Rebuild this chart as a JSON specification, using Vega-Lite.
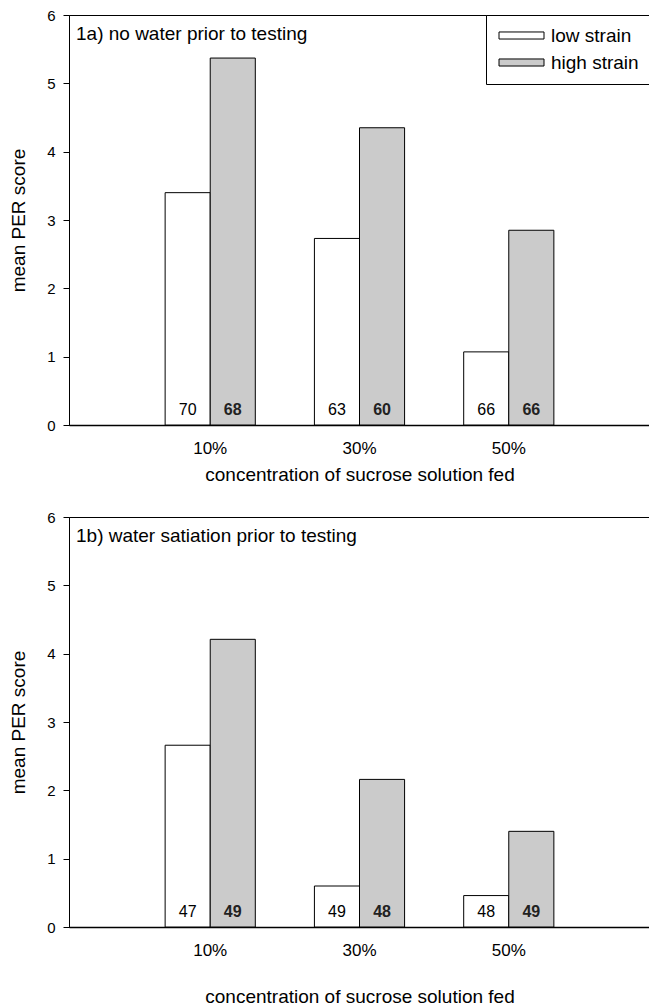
{
  "$schema": "https://vega.github.io/schema/vega-lite/v6.json",
  "padding": {"left": 9, "top": 7, "right": 0, "bottom": 0},
  "background": "white",
  "spacing": 24,
  "config": {
    "font": "Liberation Sans",
    "view": {"stroke": "black", "strokeWidth": 1},
    "axis": {"domainColor": "black", "tickColor": "black", "labelColor": "black", "titleColor": "black", "grid": false, "labelFont": "Liberation Sans", "titleFont": "Liberation Sans", "titleFontWeight": "normal"},
    "legend": {"orient": "top-right", "offset": 0, "strokeColor": "black", "fillColor": "white", "padding": 11, "symbolType": "M-1,-0.47H5V0.47H-1Z", "symbolSize": 225, "symbolStrokeColor": "black", "symbolStrokeWidth": 1, "labelFontSize": 19, "labelFont": "Liberation Sans", "labelColor": "black", "labelOffset": 35, "rowPadding": 7, "title": null}
  },
  "data": {"values": [
    {"panel": "1a", "conc": "10%", "strain": "low strain", "score": 3.40, "n": 70},
    {"panel": "1a", "conc": "10%", "strain": "high strain", "score": 5.37, "n": 68},
    {"panel": "1a", "conc": "30%", "strain": "low strain", "score": 2.73, "n": 63},
    {"panel": "1a", "conc": "30%", "strain": "high strain", "score": 4.35, "n": 60},
    {"panel": "1a", "conc": "50%", "strain": "low strain", "score": 1.07, "n": 66},
    {"panel": "1a", "conc": "50%", "strain": "high strain", "score": 2.85, "n": 66},
    {"panel": "1b", "conc": "10%", "strain": "low strain", "score": 2.66, "n": 47},
    {"panel": "1b", "conc": "10%", "strain": "high strain", "score": 4.21, "n": 49},
    {"panel": "1b", "conc": "30%", "strain": "low strain", "score": 0.60, "n": 49},
    {"panel": "1b", "conc": "30%", "strain": "high strain", "score": 2.16, "n": 48},
    {"panel": "1b", "conc": "50%", "strain": "low strain", "score": 0.46, "n": 48},
    {"panel": "1b", "conc": "50%", "strain": "high strain", "score": 1.40, "n": 49}
  ]},
  "resolve": {"legend": {"color": "independent"}},
  "vconcat": [
    {
      "width": 581, "height": 410,
      "transform": [{"filter": "datum.panel === '1a'"}],
      "resolve": {"scale": {"x": "independent"}},
      "layer": [
        {
          "mark": {"type": "bar", "stroke": "black", "strokeWidth": 1},
          "encoding": {
            "x": {"field": "conc", "type": "nominal", "sort": ["10%", "30%", "50%"], "scale": {"paddingInner": 0.396, "paddingOuter": 0.644}, "axis": {"title": "concentration of sucrose solution fed", "labelAngle": 0, "ticks": false, "tickSize": 0, "labelPadding": 15, "labelFontSize": 17, "titleFontSize": 19, "titlePadding": 9, "domainWidth": 1.5}},
            "xOffset": {"field": "strain", "type": "nominal", "sort": ["low strain", "high strain"], "scale": {"paddingInner": 0, "paddingOuter": 0}},
            "y": {"field": "score", "type": "quantitative", "scale": {"domain": [0, 6], "nice": false}, "axis": {"title": "mean PER score", "values": [0, 1, 2, 3, 4, 5, 6], "format": "d", "tickSize": 6, "labelPadding": 8, "labelFontSize": 15, "titleFontSize": 19, "titlePadding": 18}},
            "fill": {"field": "strain", "type": "nominal", "scale": {"domain": ["low strain", "high strain"], "range": ["white", "#cbcbcb"]}, "legend": {"title": null}}
          }
        },
        {
          "transform": [{"filter": "datum.strain === 'low strain'"}],
          "mark": {"type": "text", "baseline": "bottom", "dy": -7, "fontSize": 16, "color": "black"},
          "encoding": {
            "x": {"field": "conc", "type": "nominal", "sort": ["10%", "30%", "50%"], "scale": {"paddingInner": 0.396, "paddingOuter": 0.644}, "axis": null},
            "xOffset": {"field": "strain", "type": "nominal", "sort": ["low strain", "high strain"], "scale": {"domain": ["low strain", "high strain"], "paddingInner": 0, "paddingOuter": 0}},
            "y": {"datum": 0}, "text": {"field": "n", "type": "quantitative"}}
        },
        {
          "transform": [{"filter": "datum.strain === 'high strain'"}],
          "mark": {"type": "text", "baseline": "bottom", "dy": -7, "fontSize": 16, "fontWeight": "bold", "color": "#222"},
          "encoding": {
            "x": {"field": "conc", "type": "nominal", "sort": ["10%", "30%", "50%"], "scale": {"paddingInner": 0.396, "paddingOuter": 0.644}, "axis": null},
            "xOffset": {"field": "strain", "type": "nominal", "sort": ["low strain", "high strain"], "scale": {"domain": ["low strain", "high strain"], "paddingInner": 0, "paddingOuter": 0}},
            "y": {"datum": 0}, "text": {"field": "n", "type": "quantitative"}}
        },
        {
          "data": {"values": [{"label": "1a) no water prior to testing"}]},
          "mark": {"type": "text", "align": "left", "baseline": "alphabetic", "dx": 7, "dy": 25, "fontSize": 19, "color": "black"},
          "encoding": {
            "x": {"datum": 0, "type": "quantitative", "scale": {"domain": [0, 1]}, "axis": null},
            "y": {"datum": 6},
            "text": {"field": "label", "type": "nominal"}
          }
        }
      ]
    },
    {
      "width": 581, "height": 410,
      "transform": [{"filter": "datum.panel === '1b'"}],
      "resolve": {"scale": {"x": "independent"}},
      "layer": [
        {
          "mark": {"type": "bar", "stroke": "black", "strokeWidth": 1},
          "encoding": {
            "x": {"field": "conc", "type": "nominal", "sort": ["10%", "30%", "50%"], "scale": {"paddingInner": 0.396, "paddingOuter": 0.644}, "axis": {"title": "concentration of sucrose solution fed", "labelAngle": 0, "ticks": false, "tickSize": 0, "labelPadding": 15, "labelFontSize": 17, "titleFontSize": 19, "titlePadding": 29, "domainWidth": 1.5}},
            "xOffset": {"field": "strain", "type": "nominal", "sort": ["low strain", "high strain"], "scale": {"paddingInner": 0, "paddingOuter": 0}},
            "y": {"field": "score", "type": "quantitative", "scale": {"domain": [0, 6], "nice": false}, "axis": {"title": "mean PER score", "values": [0, 1, 2, 3, 4, 5, 6], "format": "d", "tickSize": 6, "labelPadding": 8, "labelFontSize": 15, "titleFontSize": 19, "titlePadding": 18}},
            "fill": {"field": "strain", "type": "nominal", "scale": {"domain": ["low strain", "high strain"], "range": ["white", "#cbcbcb"]}, "legend": {"title": null}}
          }
        },
        {
          "transform": [{"filter": "datum.strain === 'low strain'"}],
          "mark": {"type": "text", "baseline": "bottom", "dy": -7, "fontSize": 16, "color": "black"},
          "encoding": {
            "x": {"field": "conc", "type": "nominal", "sort": ["10%", "30%", "50%"], "scale": {"paddingInner": 0.396, "paddingOuter": 0.644}, "axis": null},
            "xOffset": {"field": "strain", "type": "nominal", "sort": ["low strain", "high strain"], "scale": {"domain": ["low strain", "high strain"], "paddingInner": 0, "paddingOuter": 0}},
            "y": {"datum": 0}, "text": {"field": "n", "type": "quantitative"}}
        },
        {
          "transform": [{"filter": "datum.strain === 'high strain'"}],
          "mark": {"type": "text", "baseline": "bottom", "dy": -7, "fontSize": 16, "fontWeight": "bold", "color": "#222"},
          "encoding": {
            "x": {"field": "conc", "type": "nominal", "sort": ["10%", "30%", "50%"], "scale": {"paddingInner": 0.396, "paddingOuter": 0.644}, "axis": null},
            "xOffset": {"field": "strain", "type": "nominal", "sort": ["low strain", "high strain"], "scale": {"domain": ["low strain", "high strain"], "paddingInner": 0, "paddingOuter": 0}},
            "y": {"datum": 0}, "text": {"field": "n", "type": "quantitative"}}
        },
        {
          "data": {"values": [{"label": "1b) water satiation prior to testing"}]},
          "mark": {"type": "text", "align": "left", "baseline": "alphabetic", "dx": 7, "dy": 25, "fontSize": 19, "color": "black"},
          "encoding": {
            "x": {"datum": 0, "type": "quantitative", "scale": {"domain": [0, 1]}, "axis": null},
            "y": {"datum": 6},
            "text": {"field": "label", "type": "nominal"}
          }
        }
      ]
    }
  ]
}
